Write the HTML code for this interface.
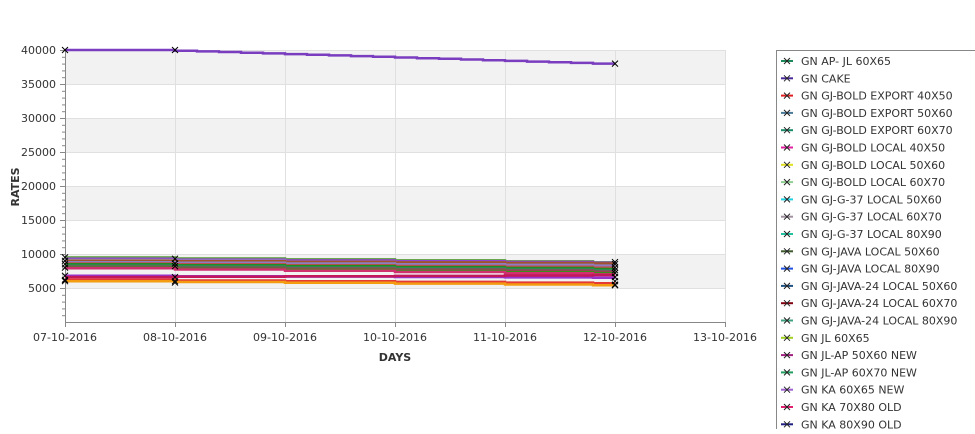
<!DOCTYPE html>
<html><head><meta charset="utf-8">
<style>
body{margin:0;background:#fff;width:975px;height:429px;overflow:hidden;font-family:"Liberation Sans","DejaVu Sans",sans-serif;}
svg text{font-family:"DejaVu Sans","Liberation Sans",sans-serif;font-size:11px;fill:#333;}
</style></head><body>
<svg id="s" width="975" height="429" xmlns="http://www.w3.org/2000/svg">
<rect x="0" y="0" width="975" height="429" fill="#fff"/>
<rect x="65" y="50" width="660" height="34" fill="#f2f2f2"/>
<rect x="65" y="118" width="660" height="34" fill="#f2f2f2"/>
<rect x="65" y="186" width="660" height="34" fill="#f2f2f2"/>
<rect x="65" y="254" width="660" height="34" fill="#f2f2f2"/>
<g id="grid" stroke="#e0e0e0" stroke-width="1"></g>
<line x1="65.5" y1="50" x2="65.5" y2="322" stroke="#888"/>
<line x1="65" y1="322.5" x2="725" y2="322.5" stroke="#888"/>
<g id="ticks" stroke="#888"></g>
<g id="lab"></g>
<g id="series" fill="none" stroke-width="2.5"></g>
<g id="marks" stroke="#000" stroke-width="1"></g>
<text x="19" y="187" transform="rotate(-90 19 187)" text-anchor="middle" style="font-size:11px;font-weight:bold">RATES</text>
<text x="395" y="361" text-anchor="middle" style="font-size:11px;font-weight:bold">DAYS</text>
<rect x="776.5" y="50.5" width="210" height="390" fill="#fff" stroke="#888"/>
<g id="leg"></g>
</svg>
<script>
var NS="http://www.w3.org/2000/svg";
function el(p,t,a,txt){var e=document.createElementNS(NS,t);for(var k in a)e.setAttribute(k,a[k]);if(txt!=null)e.textContent=txt;document.getElementById(p).appendChild(e);return e;}
function Y(v){return 322-v*0.0068;}
for(var v=5000;v<=40000;v+=5000){el("grid","line",{x1:65,x2:725,y1:Y(v)+.5,y2:Y(v)+.5});el("lab","text",{x:56,y:Y(v)+4,"text-anchor":"end"},String(v));el("ticks","line",{x1:60,x2:65,y1:Y(v)+.5,y2:Y(v)+.5});}
for(var v=1000;v<40000;v+=1000){if(v%5000)el("ticks","line",{x1:62,x2:65,y1:Y(v)+.5,y2:Y(v)+.5});}
var days=["07-10-2016","08-10-2016","09-10-2016","10-10-2016","11-10-2016","12-10-2016","13-10-2016"];
for(var d=0;d<7;d++){var x=65+d*110;el("grid","line",{x1:x+.5,x2:x+.5,y1:50,y2:322});el("ticks","line",{x1:x+.5,x2:x+.5,y1:322,y2:327});el("lab","text",{x:x,y:341,"text-anchor":"middle"},days[d]);}
function step(a,b,col,w){var pts=[],n=25;for(var i=0;i<n;i++){var x=65+i*22;var v=a+(b-a)*Math.floor(i*5/n)/5;if(i==n-1)v=b;pts.push(x+","+Y(v).toFixed(1));pts.push((x+22)+","+Y(v).toFixed(1));}el("series","polyline",{points:pts.join(" "),stroke:col,"stroke-width":w||2.5});}
(function(){var pts=[];for(var i=0;i<25;i++){var x=65+i*22;var v=40000-2000*Math.max(0,i-4)/20;pts.push(x+","+Y(v).toFixed(1));pts.push((x+22)+","+Y(v).toFixed(1));}el("series","polyline",{points:pts.join(" "),stroke:"#7a3dbf"});})();
var S=[[9500,8800,"#6aa84f"],[9300,8700,"#8e44c8"],[9100,8500,"#9fa8c8"],[9000,8600,"#a0522d"],[8800,8300,"#8e7cc3"],[8600,8000,"#c0504d"],[8500,7800,"#228b22"],[8300,7600,"#2e8b57"],[8100,7400,"#b03060"],[8000,7200,"#3a8f1a"],[7900,7000,"#d0306f"],[6800,6500,"#9932cc"],[6600,6900,"#c2185b"],[6200,5700,"#e53935"],[6000,5400,"#f39c12"]];
S.forEach(function(s){step(s[0],s[1],s[2]);});
[0,1,5].forEach(function(d){var x=65+d*110;var vals=d==0?[40000,9500,9000,8500,8000,6800,6200,6000]:(d==1?[40000,9300,8600,8200,6600,6000,5800]:[38000,8800,8500,8000,7600,7200,6600,6000,5500,5400]);vals.forEach(function(v){var y=Y(v);el("marks","path",{d:"M"+(x-3)+","+(y-3)+"L"+(x+3)+","+(y+3)+"M"+(x-3)+","+(y+3)+"L"+(x+3)+","+(y-3)});});});
var L=[["GN AP- JL 60X65","#1a8a5a"],["GN CAKE","#4b2a99"],["GN GJ-BOLD EXPORT 40X50","#e02020"],["GN GJ-BOLD EXPORT 50X60","#4a7a9a"],["GN GJ-BOLD EXPORT 60X70","#1a8a6a"],["GN GJ-BOLD LOCAL 40X50","#e020a0"],["GN GJ-BOLD LOCAL 50X60","#e0e020"],["GN GJ-BOLD LOCAL 60X70","#90d090"],["GN GJ-G-37 LOCAL 50X60","#20d0e0"],["GN GJ-G-37 LOCAL 60X70","#a090a0"],["GN GJ-G-37 LOCAL 80X90","#20c0a0"],["GN GJ-JAVA LOCAL 50X60","#405a30"],["GN GJ-JAVA LOCAL 80X90","#2050e0"],["GN GJ-JAVA-24 LOCAL 50X60","#205080"],["GN GJ-JAVA-24 LOCAL 60X70","#800010"],["GN GJ-JAVA-24 LOCAL 80X90","#40a080"],["GN JL 60X65","#a0d020"],["GN JL-AP 50X60 NEW","#a02080"],["GN JL-AP 60X70 NEW","#20a060"],["GN KA 60X65 NEW","#a060d0"],["GN KA 70X80 OLD","#e02070"],["GN KA 80X90 OLD","#202080"]];
L.forEach(function(l,i){var y=61+i*17.3;el("leg","line",{x1:781,x2:793,y1:y,y2:y,stroke:l[1],"stroke-width":2});el("leg","path",{d:"M784,"+(y-3)+"L790,"+(y+3)+"M784,"+(y+3)+"L790,"+(y-3),stroke:"#222","stroke-width":1});el("leg","text",{x:801,y:y+4},l[0]);});
</script>
</body></html>
